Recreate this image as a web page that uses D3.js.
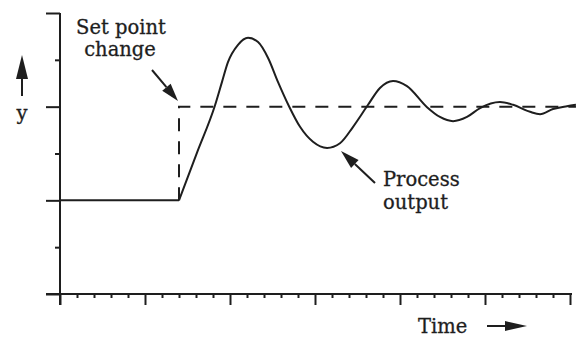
<!DOCTYPE html>
<html><head><meta charset="utf-8">
<script src="https://cdn.jsdelivr.net/npm/d3@7"></script>
<style>body{margin:0;background:#fff}svg{display:block}</style>
</head><body>
<script>
// Data (time units, y units)
const flatT = [0, 7];
const flatY = [2, 2];
const setpointT = [7, 7, 30.35];
const setpointY = [2, 4, 4];
const outT = [7, 8.06, 9.12, 9.53, 9.88, 10.47, 11.06, 11.65, 12.24, 12.82, 13.47, 14.12, 14.88, 15.71, 16.47, 17.24, 18.12, 18.82, 19.59, 20.41, 21.59, 22.35, 23.12, 23.94, 24.71, 25.88, 26.65, 27.65, 28.24, 29.0, 29.82, 30.35];
const outY = [2, 3.02, 4.03, 4.53, 4.95, 5.32, 5.47, 5.38, 5.04, 4.53, 4.01, 3.57, 3.25, 3.12, 3.22, 3.57, 4.04, 4.40, 4.55, 4.44, 3.99, 3.78, 3.69, 3.78, 3.97, 4.10, 4.04, 3.89, 3.84, 3.95, 4.01, 4.04];
const xTicks = d3.range(0, 31);
const yTicks = [0, 1, 2, 3, 4, 5, 6];
const labels = {setpoint: ["Set point", "change"], output: ["Process", "output"], x: "Time", y: "y"};

const W = 576, H = 340;
const ink = "#1e1e1e";
const x = d3.scaleLinear().domain([0, 30]).range([60, 570]);
const y = d3.scaleLinear().domain([0, 6]).range([294, 13]);

const svg = d3.select("body").append("svg").attr("width", W).attr("height", H);
const font = "DejaVu Serif";

// X axis
const xAxis = d3.axisBottom(x).tickValues(xTicks)
  .tickSizeInner(4).tickSizeOuter(0).tickFormat("");
const gx = svg.append("g").attr("transform", `translate(0,${y(0)})`).call(xAxis);
gx.selectAll(".tick line").attr("y2", d => d % 5 === 0 ? 11 : 4);
gx.select(".domain").attr("d", `M${x(0)-14},0H${x(30)+2}`);
gx.selectAll("line,path").attr("stroke", ink).attr("stroke-width", 2);

// Y axis
const yAxis = d3.axisLeft(y).tickValues(yTicks).tickSizeInner(5).tickSizeOuter(0).tickFormat("");
const gy = svg.append("g").attr("transform", `translate(${x(0)},0)`).call(yAxis);
gy.selectAll(".tick line").attr("x2", d => d % 2 === 0 ? -14 : -5);
gy.select(".domain").attr("d", `M0,${y(6)}V${y(0)+11}`);
gy.selectAll("line,path").attr("stroke", ink).attr("stroke-width", 2);

// Set point (dashed)
const lineLin = d3.line().x(d => x(d[0])).y(d => y(d[1]));
svg.append("path").datum(setpointT.map((t, i) => [t, setpointY[i]]))
  .attr("d", lineLin).attr("fill", "none").attr("stroke", ink)
  .attr("stroke-width", 2).attr("stroke-dasharray", "13,10");

// Process output
svg.append("path").datum(flatT.map((t, i) => [t, flatY[i]]))
  .attr("d", lineLin).attr("fill", "none").attr("stroke", ink).attr("stroke-width", 2);
const lineC = d3.line().x(d => x(d[0])).y(d => y(d[1])).curve(d3.curveMonotoneX);
svg.append("path").datum(outT.map((t, i) => [t, outY[i]]))
  .attr("d", lineC).attr("fill", "none").attr("stroke", ink).attr("stroke-width", 2);

// Arrow helper
function arrow(x1, y1, x2, y2, headLen, headW) {
  const a = Math.atan2(y2 - y1, x2 - x1);
  const bx = x2 - headLen * Math.cos(a), by = y2 - headLen * Math.sin(a);
  svg.append("line").attr("x1", x1).attr("y1", y1).attr("x2", bx).attr("y2", by)
    .attr("stroke", ink).attr("stroke-width", 2);
  const px = -Math.sin(a) * headW / 2, py = Math.cos(a) * headW / 2;
  svg.append("path").attr("d", `M${x2},${y2}L${bx+px},${by+py}L${bx-px},${by-py}Z`).attr("fill", ink);
}

// Text
const txt = (s, tx, ty, anchor) => svg.append("text").attr("x", tx).attr("y", ty)
  .attr("font-family", font).attr("font-size", 19.5).attr("fill", ink)
  .attr("stroke", ink).attr("stroke-width", 0.3)
  .attr("text-anchor", anchor || "start").text(s);

txt(labels.setpoint[0], 121, 34, "middle");
txt(labels.setpoint[1], 120, 56, "middle");
arrow(152, 70, 178, 101, 18, 11);

txt(labels.output[0], 383, 186);
txt(labels.output[1], 383, 209);
arrow(375, 183, 341, 151, 19, 11);

txt(labels.x, 418, 333);
arrow(487, 326, 527, 326, 22, 10);

txt(labels.y, 22, 120, "middle");
arrow(22, 96, 22, 55, 24, 12);
</script>
</body></html>
